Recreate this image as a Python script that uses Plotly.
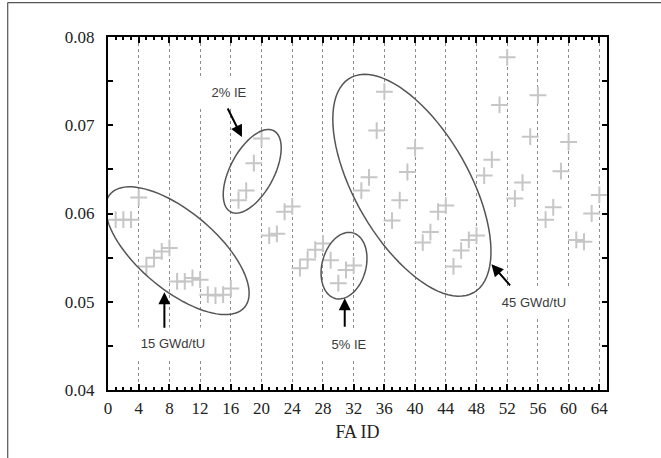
import numpy as np
import plotly.graph_objects as go

# ---- data ----
fa_id = list(range(1, 65))
ratio = [0.0593, 0.0593, 0.0593, 0.0618, 0.0540, 0.0550, 0.0557, 0.0561,
         0.0523, 0.0523, 0.0527, 0.0525, 0.0508, 0.0507, 0.0508, 0.0515,
         0.0615, 0.0626, 0.0657, 0.0685, 0.0575, 0.0577, 0.0602, 0.0608,
         0.0538, 0.0548, 0.0559, 0.0566, 0.0547, 0.0521, 0.0536, 0.0541,
         0.0626, 0.0641, 0.0694, 0.0738, 0.0592, 0.0615, 0.0647, 0.0674,
         0.0567, 0.0579, 0.0602, 0.0609, 0.0540, 0.0558, 0.0570, 0.0575,
         0.0643, 0.0661, 0.0723, 0.0777, 0.0617, 0.0635, 0.0687, 0.0734,
         0.0593, 0.0607, 0.0648, 0.0681, 0.0570, 0.0568, 0.0600, 0.0621]
x_ticks = list(range(0, 65, 4))
y_ticks = [0.04, 0.05, 0.06, 0.07, 0.08]

# ---- layout geometry ----
W, H = 661, 458
L, R, T, B = 107.5, 53.5, 36.5, 68
XR = [0, 65]
YR = [0.04, 0.08]
pw, ph = W - L - R, H - T - B

def to_data(px, py):
    return (XR[0] + (px - L) / pw * (XR[1] - XR[0]),
            YR[0] + (H - B - py) / ph * (YR[1] - YR[0]))

def ellipse_path(cx, cy, a, b, deg):
    th = np.radians(deg)
    t = np.linspace(0, 2 * np.pi, 90)
    px = cx + a * np.cos(t) * np.cos(th) - b * np.sin(t) * np.sin(th)
    py = cy + a * np.cos(t) * np.sin(th) + b * np.sin(t) * np.cos(th)
    pts = [to_data(u, v) for u, v in zip(px, py)]
    return "M " + " L ".join(f"{u:.4f},{v:.6f}" for u, v in pts) + " Z"

fig = go.Figure()
fig.add_trace(go.Scatter(
    x=fa_id, y=ratio, mode="markers",
    marker=dict(symbol="cross-thin", size=12, color="#c6c6c6",
                line=dict(color="#c6c6c6", width=2)),
    hoverinfo="skip", showlegend=False))

ell_col = "#555555"
shapes = []
for cx, cy, a, b, d in [(177, 250.5, 88, 39, 40), (252, 171, 46, 22, -62),
                        (344, 265.5, 34, 22, -75), (412, 185, 124, 57, 60)]:
    shapes.append(dict(type="path", xref="x", yref="y",
                       path=ellipse_path(cx, cy, a, b, d),
                       line=dict(color=ell_col, width=1.5)))
# outer frame of the picture (top and left edges)
shapes.append(dict(type="line", xref="paper", yref="paper",
                   x0=(7 - L) / pw, x1=(7 - L) / pw,
                   y0=(H - B - 520) / ph, y1=(H - B - 2) / ph,
                   line=dict(color="#555555", width=1.2)))
shapes.append(dict(type="line", xref="paper", yref="paper",
                   x0=(7 - L) / pw, x1=(720 - L) / pw,
                   y0=(H - B - 2) / ph, y1=(H - B - 2) / ph,
                   line=dict(color="#555555", width=1.2)))

annots = []
lab_font = dict(family="Liberation Sans", size=13, color="#3a3a3a")
for txt, px, py, w in [("2% IE", 229, 92, 58), ("15 GWd/tU", 173, 343, 72),
                       ("5% IE", 348.5, 344, 56), ("45 GWd/tU", 534, 302, 72)]:
    xd, yd = to_data(px, py)
    annots.append(dict(x=xd, y=yd, xref="x", yref="y", text=txt,
                       showarrow=False, font=lab_font, bgcolor="white",
                       width=w, height=26, borderpad=2))
for hx, hy, tx, ty in [(241.7, 136.7, 226.7, 106.7), (164, 292, 164, 329),
                       (344.7, 298, 344.7, 328), (491.7, 264, 511.7, 286.7)]:
    xd, yd = to_data(hx, hy)
    annots.append(dict(x=xd, y=yd, xref="x", yref="y", text="",
                       showarrow=True, ax=tx - hx, ay=ty - hy,
                       arrowhead=2, arrowsize=1.2, arrowwidth=2,
                       arrowcolor="black", standoff=0, startstandoff=0))

tick_font = dict(family="Liberation Serif", size=17, color="#222")
fig.update_layout(
    width=W, height=H, margin=dict(l=L, r=R, t=T, b=B),
    paper_bgcolor="white", plot_bgcolor="white",
    font=dict(family="Liberation Serif", size=17, color="black"),
    shapes=shapes, annotations=annots,
    xaxis=dict(range=XR, tickvals=x_ticks, ticks="inside", ticklen=6,
               tickwidth=1.5, tickcolor="black", mirror="ticks",
               showline=True, linecolor="black", linewidth=2,
               showgrid=True, gridcolor="#8c8c8c", griddash="dot", gridwidth=1,
               zeroline=False, tickfont=tick_font, ticklabelstandoff=2,
               minor=dict(dtick=1, tick0=0, ticks="inside", ticklen=3,
                          tickcolor="black", tickwidth=1.5, showgrid=False),
               title=dict(text="FA ID", font=dict(family="Liberation Serif",
                                                  size=18, color="#222"),
                          standoff=8)),
    yaxis=dict(range=YR, tickvals=y_ticks, tickformat=".2f", ticks="inside",
               ticklen=5, tickwidth=1.5, tickcolor="black", mirror="ticks",
               showline=True, linecolor="black", linewidth=2,
               showgrid=False, zeroline=False, tickfont=tick_font,
               ticklabelstandoff=8,
               minor=dict(dtick=0.005, tick0=0.04, ticks="inside", ticklen=5,
                          tickcolor="black", tickwidth=1.5, showgrid=False)),
)
fig.write_html("out.html")
